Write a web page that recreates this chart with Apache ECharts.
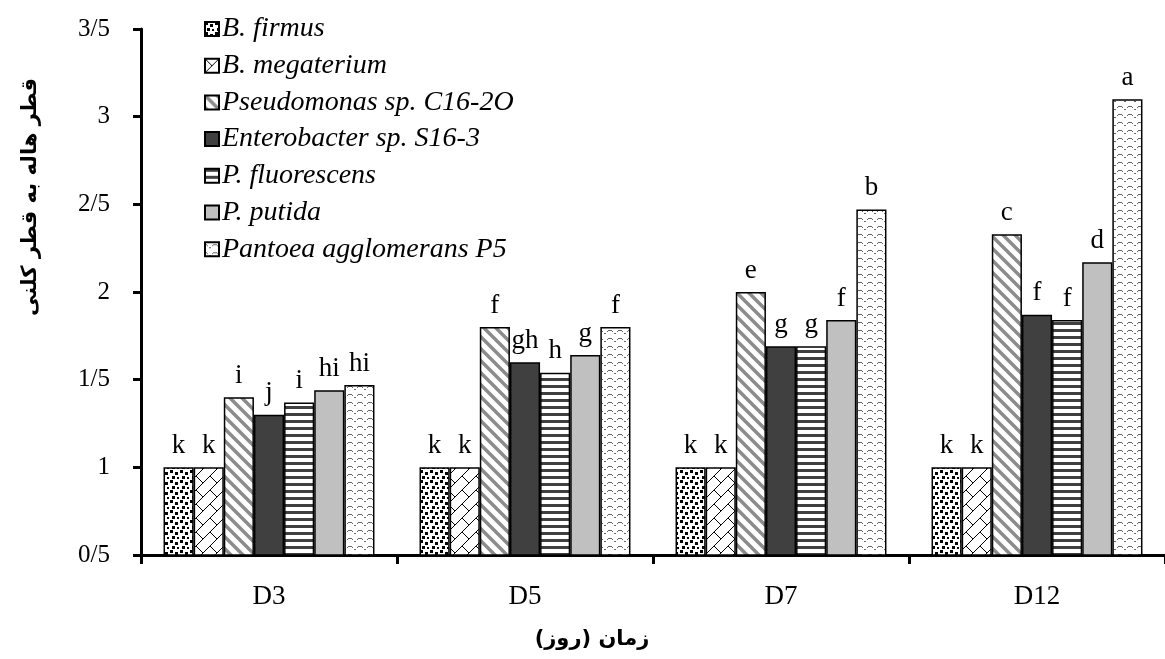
<!DOCTYPE html>
<html>
<head>
<meta charset="UTF-8">
<script src="https://cdn.jsdelivr.net/npm/echarts@6/dist/echarts.min.js"></script>
<style>
  html, body { margin: 0; padding: 0; background: #fff; }
  #main { width: 1165px; height: 659px; }
</style>
</head>
<body>
<div id="main"></div>
<script>
// data
var days = ['D3', 'D5', 'D7', 'D12'];
var seriesNames = ['B. firmus', 'B. megaterium', 'Pseudomonas sp. C16-2O', 'Enterobacter sp. S16-3',
                   'P. fluorescens', 'P. putida', 'Pantoea agglomerans P5'];
var firmus       = [1.00, 1.00, 1.00, 1.00];
var megaterium   = [1.00, 1.00, 1.00, 1.00];
var pseudomonas  = [1.40, 1.80, 2.00, 2.33];
var enterobacter = [1.30, 1.60, 1.69, 1.87];
var fluorescens  = [1.37, 1.54, 1.69, 1.84];
var putida       = [1.44, 1.64, 1.84, 2.17];
var pantoea      = [1.47, 1.80, 2.47, 3.10];
// letters of the mean comparison test, same order as series
var letters = [
    ['k', 'k', 'k', 'k'],
    ['k', 'k', 'k', 'k'],
    ['i', 'f', 'e', 'c'],
    ['j', 'gh', 'g', 'f'],
    ['i', 'h', 'g', 'f'],
    ['hi', 'g', 'f', 'd'],
    ['hi', 'f', 'b', 'a']
];
var values = [firmus, megaterium, pseudomonas, enterobacter, fluorescens, putida, pantoea];

function pattern(w, h, draw) {
    var c = document.createElement('canvas');
    c.width = w; c.height = h;
    var ctx = c.getContext('2d');
    ctx.fillStyle = '#fff';
    ctx.fillRect(0, 0, w, h);
    draw(ctx);
    return { image: c, repeat: 'repeat' };
}

var fills = [
    // black speckles
    pattern(10, 10, function (ctx) {
        ctx.fillStyle = '#000';
        ctx.fillRect(0, 0, 3, 3);
        ctx.fillRect(5, 2, 3, 3);
        ctx.fillRect(2, 6, 3, 3);
        ctx.fillRect(7, 7, 2, 2);
    }),
    // diagonal brick lattice
    pattern(14, 14, function (ctx) {
        ctx.strokeStyle = '#000';
        ctx.lineWidth = 1;
        ctx.beginPath();
        ctx.moveTo(-1, 15); ctx.lineTo(15, -1);
        ctx.moveTo(0, 0); ctx.lineTo(7, 7);
        ctx.stroke();
    }),
    // grey back-slash stripes
    pattern(12, 12, function (ctx) {
        ctx.strokeStyle = '#8c8c8c';
        ctx.lineWidth = 3.5;
        ctx.beginPath();
        ctx.moveTo(-2, -2); ctx.lineTo(14, 14);
        ctx.moveTo(-8, 4); ctx.lineTo(8, 20);
        ctx.moveTo(4, -8); ctx.lineTo(20, 8);
        ctx.stroke();
    }),
    '#404040',
    // horizontal dark stripes
    pattern(4, 7, function (ctx) {
        ctx.fillStyle = '#404040';
        ctx.fillRect(0, 0, 4, 3);
    }),
    '#c0c0c0',
    // dotted zigzag
    pattern(10, 8, function (ctx) {
        ctx.fillStyle = '#666';
        ctx.fillRect(0, 2, 2, 1);
        ctx.fillRect(2, 3, 1, 1);
        ctx.fillRect(4, 5, 2, 1);
        ctx.fillRect(7, 3, 1, 1);
        ctx.fillRect(8, 2, 2, 1);
    })
];

var serif = 'Liberation Serif, Times New Roman, serif';

var series = seriesNames.map(function (name, i) {
    return {
        name: name,
        type: 'bar',
        data: values[i],
        barGap: '0%',
        barCategoryGap: '17.6%',
        itemStyle: { color: fills[i], borderColor: '#000', borderWidth: 1.5 },
        label: {
            show: true,
            position: 'top',
            distance: 8,
            color: '#000',
            fontFamily: serif,
            fontSize: 27,
            formatter: function (p) { return letters[p.seriesIndex][p.dataIndex]; }
        }
    };
});

var chart = echarts.init(document.getElementById('main'));
chart.setOption({
    animation: false,
    backgroundColor: '#fff',
    grid: { left: 141, right: -9, top: 29, bottom: 104, containLabel: false },
    legend: {
        orient: 'vertical',
        left: 199,
        top: 10,
        itemWidth: 14,
        itemHeight: 14,
        itemGap: 8.7,
        icon: 'rect',
        data: seriesNames,
        textStyle: { fontFamily: serif, fontStyle: 'italic', fontSize: 28, color: '#000', padding: [0, 0, 0, -2] }
    },
    xAxis: {
        type: 'category',
        data: days,
        axisLine: { lineStyle: { color: '#000', width: 3 } },
        axisTick: { show: true, length: 9, interval: 0, lineStyle: { color: '#000', width: 3 } },
        axisLabel: { fontFamily: serif, fontSize: 27, color: '#000', margin: 28 }
    },
    yAxis: {
        type: 'value',
        min: 0.5,
        max: 3.5,
        interval: 0.5,
        splitLine: { show: false },
        axisLine: { show: true, lineStyle: { color: '#000', width: 3 } },
        axisTick: { show: true, length: 8, lineStyle: { color: '#000', width: 3 } },
        axisLabel: {
            fontFamily: serif, fontSize: 25, color: '#000', margin: 31,
            formatter: function (v) { return String(v).replace('.', '/'); }
        }
    },
    graphic: [
        {
            type: 'text',
            x: 31, y: 197,
            rotation: Math.PI / 2,
            style: {
                text: 'قطر هاله به قطر کلنی',
                fontFamily: 'DejaVu Sans, Noto Sans, sans-serif',
                fontWeight: 'bold',
                fontSize: 21,
                fill: '#000',
                textAlign: 'center',
                textVerticalAlign: 'middle'
            }
        },
        {
            type: 'text',
            x: 592, y: 640,
            style: {
                text: 'زمان (روز)',
                fontFamily: 'DejaVu Sans, Noto Sans, sans-serif',
                fontWeight: 'bold',
                fontSize: 21,
                fill: '#000',
                textAlign: 'center',
                textVerticalAlign: 'middle'
            }
        }
    ],
    series: series
});
</script>
</body>
</html>
